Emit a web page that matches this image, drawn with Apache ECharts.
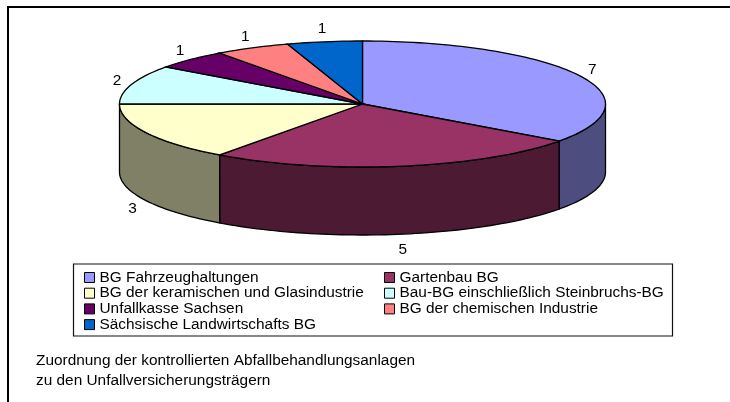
<!DOCTYPE html>
<html><head><meta charset="utf-8">
<style>html,body{margin:0;padding:0;background:#fff}#c{width:730px;height:402px}</style>
<script src="https://cdn.jsdelivr.net/npm/echarts@6/dist/echarts.min.js"></script>
</head><body><div id="c"></div>
<script>
const categories = ['BG Fahrzeughaltungen','Gartenbau BG','BG der keramischen und Glasindustrie','Bau-BG einschließlich Steinbruchs-BG','Unfallkasse Sachsen','BG der chemischen Industrie','Sächsische Landwirtschafts BG'];
const values = [7,5,3,2,1,1,1];
const topColors = ['#9999FF','#993366','#FFFFCC','#CCFFFF','#660066','#FF8080','#0066CC'];
const sideColors = ['#4D4D80','#4D1A33','#808066','#668080','#330033','#804040','#003366'];
const captionLines = ['Zuordnung der kontrollierten Abfallbehandlungsanlagen','zu den Unfallversicherungsträgern'];
const FONT = '"Liberation Sans", Arial, sans-serif';
const FS = 15.4;
const CX = 362.5, CY = 104, RX = 243, RY = 63, DEPTH = 68;
const total = values.reduce((a,b)=>a+b,0);
const pt = (deg, dy=0, rx=RX, ry=RY) => {
  const t = deg*Math.PI/180;
  return [CX+rx*Math.sin(t), CY+dy-ry*Math.cos(t)];
};
const arc = (a,b,dy=0) => {
  const out=[]; const n=Math.max(2,Math.ceil((b-a)/1.5));
  for(let i=0;i<=n;i++) out.push(pt(a+(b-a)*i/n,dy));
  return out;
};
let acc=0;
const series = categories.map((name,i)=>{
  const start=acc; acc+=values[i];
  return {
    type:'custom', name, coordinateSystem:'none', silent:true, animation:false,
    itemStyle:{color:topColors[i],borderColor:'#000',borderWidth:1},
    data:[[start,values[i]]],
    renderItem(params,api){
      const a=api.value(0)/total*360, b=a+api.value(1)/total*360;
      const children=[];
      const s=Math.max(a,90), e=Math.min(b,270);
      const style={stroke:'#000',lineWidth:1.3};
      if(e>s){
        const front=arc(s,e), back=arc(s,e,DEPTH).reverse();
        children.push({type:'polygon',shape:{points:front.concat(back)},style:{fill:sideColors[i],...style}});
      }
      children.push({type:'polygon',shape:{points:[[CX,CY]].concat(arc(a,b))},style:{fill:topColors[i],...style}});
      const m=(a+b)/2;
      const dy=(m>90&&m<270)?DEPTH+2.5:0;
      const p=pt(m,dy,RX+15,RY+13);
      children.push({type:'text',style:{x:p[0],y:p[1],text:String(api.value(1)),font:FS+'px '+FONT,fill:'#000',align:'center',verticalAlign:'middle'}});
      return {type:'group',children};
    }
  };
});
const legendBase = {orient:'vertical',itemWidth:10,itemHeight:10,itemGap:0.7,padding:0,selectedMode:false,icon:'rect',
  textStyle:{fontFamily:FONT,fontSize:FS,color:'#000'},
  itemStyle:{borderColor:'#000',borderWidth:1}};
const chart = echarts.init(document.getElementById('c'),null,{renderer:'canvas'});
chart.setOption({
  backgroundColor:'#fff', animation:false,
  legend:[
    {...legendBase,left:84,top:270,data:categories.filter((_,i)=>i%2===0)},
    {...legendBase,left:384,top:270,data:categories.filter((_,i)=>i%2===1)}
  ],
  series,
  graphic:[
    {type:'polyline',shape:{points:[[8,402],[8,7],[730,7]]},style:{stroke:'#000',lineWidth:2,fill:null},z:-1},
    {type:'rect',shape:{x:73.5,y:264,width:599,height:72},style:{fill:'#fff',stroke:'#111',lineWidth:1.2},z:-1},
    ...captionLines.map((t,i)=>({type:'text',x:36,y:353+i*20,style:{text:t,font:FS+'px '+FONT,fill:'#000'},z:5}))
  ]
});
</script></body></html>
